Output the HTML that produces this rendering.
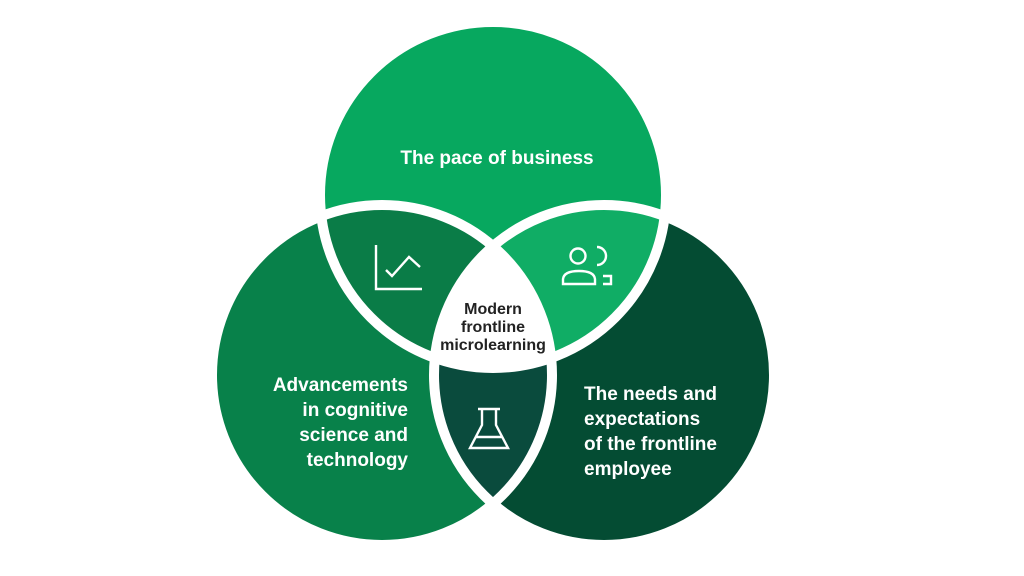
<!DOCTYPE html>
<html><head><meta charset="utf-8"><style>
html,body{margin:0;padding:0;background:#fff;}
svg{display:block;}
text{font-family:"Liberation Sans",Arial,sans-serif;font-weight:bold;}
</style></head><body>
<svg width="1024" height="576" viewBox="0 0 1024 576" xmlns="http://www.w3.org/2000/svg">
<defs>
<clipPath id="cT"><circle cx="493" cy="195" r="173"/></clipPath>
<clipPath id="cL"><circle cx="382" cy="375" r="170"/></clipPath>
</defs>
<rect width="1024" height="576" fill="#fff"/>
<circle cx="493" cy="195" r="173" fill="#07a85f"/>
<circle cx="382" cy="375" r="170" fill="#08814a"/>
<circle cx="604" cy="375" r="170" fill="#044c33"/>
<g clip-path="url(#cT)">
  <circle cx="382" cy="375" r="170" fill="#0a7c47"/>
  <circle cx="604" cy="375" r="170" fill="#10ad65"/>
</g>
<g clip-path="url(#cL)">
  <circle cx="604" cy="375" r="170" fill="#0a4b3d"/>
</g>
<g clip-path="url(#cT)"><g clip-path="url(#cL)">
  <circle cx="604" cy="375" r="170" fill="#fff"/>
</g></g>
<g fill="none" stroke="#fff" stroke-width="10">
<circle cx="493" cy="195" r="173"/>
<circle cx="382" cy="375" r="170"/>
<circle cx="604" cy="375" r="170"/>
</g>
<g fill="none" stroke="#fff" stroke-width="2.4" stroke-linejoin="miter">
  <polyline points="376,245 376,289 422,289"/>
  <polyline points="386,270 392,276 409,257 420,267"/>
  <circle cx="578" cy="256" r="7.5"/>
  <path d="M597,247 A9,9 0 0 1 597,265"/>
  <path d="M563,284 L563,279 Q564,271 579,271 Q594,271 595,279 L595,284 Z"/>
  <path d="M603,276 L611,276 L611,284 L603,284"/>
  <line x1="478" y1="409" x2="500" y2="409"/>
  <path d="M482,409 L482,425 L470,448 L508,448 L496,425 L496,409"/>
  <line x1="476" y1="437" x2="502" y2="437"/>
</g>
<text x="497" y="164" fill="#fff" font-size="19" text-anchor="middle">The pace of business</text>
<g fill="#222" font-size="16" text-anchor="middle">
<text x="493" y="314">Modern</text>
<text x="493" y="332">frontline</text>
<text x="493" y="350">microlearning</text>
</g>
<g fill="#fff" font-size="19" text-anchor="end">
<text x="408" y="391">Advancements</text>
<text x="408" y="416">in cognitive</text>
<text x="408" y="441">science and</text>
<text x="408" y="466">technology</text>
</g>
<g fill="#fff" font-size="19">
<text x="584" y="400">The needs and</text>
<text x="584" y="425">expectations</text>
<text x="584" y="450">of the frontline</text>
<text x="584" y="475">employee</text>
</g>
</svg>
</body></html>
